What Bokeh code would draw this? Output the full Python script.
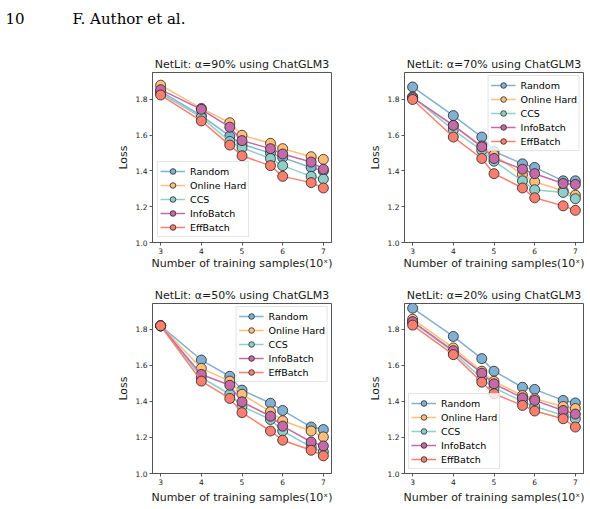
from bokeh.plotting import figure
from bokeh.models import Range1d, FixedTicker, PrintfTickFormatter, Label
from bokeh.layouts import column, row
from bokeh.embed import file_html
from bokeh.resources import INLINE

x_vals = [3, 4, 4.7, 5, 5.7, 6, 6.7, 7]
methods = ["Random", "Online Hard", "CCS", "InfoBatch", "EffBatch"]
colors = ["#82B0D2", "#FFBE7A", "#8ECFC9", "#C46AA6", "#FA7F6F"]

titles = [
    "NetLit: α=90% using ChatGLM3",
    "NetLit: α=70% using ChatGLM3",
    "NetLit: α=50% using ChatGLM3",
    "NetLit: α=20% using ChatGLM3",
]

# alpha = 90%
a90_random = [1.845, 1.71, 1.595, 1.55, 1.50, 1.475, 1.42, 1.40]
a90_online = [1.88, 1.75, 1.67, 1.60, 1.555, 1.525, 1.48, 1.465]
a90_ccs = [1.835, 1.70, 1.565, 1.53, 1.47, 1.43, 1.37, 1.355]
a90_info = [1.855, 1.745, 1.645, 1.57, 1.525, 1.495, 1.45, 1.41]
a90_eff = [1.825, 1.68, 1.545, 1.485, 1.43, 1.37, 1.335, 1.305]

# alpha = 70%
a70_random = [1.87, 1.71, 1.59, 1.51, 1.44, 1.42, 1.345, 1.345]
a70_online = [1.81, 1.655, 1.54, 1.49, 1.38, 1.34, 1.29, 1.265]
a70_ccs = [1.815, 1.63, 1.515, 1.455, 1.345, 1.295, 1.28, 1.245]
a70_info = [1.81, 1.655, 1.535, 1.47, 1.41, 1.385, 1.33, 1.325]
a70_eff = [1.80, 1.59, 1.47, 1.385, 1.305, 1.25, 1.205, 1.18]

# alpha = 50%
a50_random = [1.82, 1.63, 1.54, 1.463, 1.39, 1.35, 1.258, 1.244]
a50_online = [1.82, 1.584, 1.513, 1.44, 1.343, 1.293, 1.236, 1.203]
a50_ccs = [1.82, 1.533, 1.44, 1.373, 1.30, 1.236, 1.147, 1.12]
a50_info = [1.82, 1.55, 1.49, 1.398, 1.318, 1.263, 1.175, 1.153]
a50_eff = [1.82, 1.513, 1.417, 1.338, 1.236, 1.185, 1.129, 1.098]

# alpha = 20%
a20_random = [1.918, 1.761, 1.638, 1.568, 1.479, 1.467, 1.406, 1.392]
a20_online = [1.857, 1.697, 1.568, 1.512, 1.433, 1.415, 1.372, 1.361]
a20_ccs = [1.84, 1.675, 1.526, 1.476, 1.40, 1.372, 1.323, 1.304]
a20_info = [1.843, 1.682, 1.557, 1.498, 1.42, 1.406, 1.35, 1.33]
a20_eff = [1.824, 1.66, 1.507, 1.443, 1.378, 1.347, 1.304, 1.258]

y_ticks = [1.0, 1.2, 1.4, 1.6, 1.8]
x_ticks = [3, 4, 5, 6, 7]
x_label = "Number of training samples(10ˣ)"
y_label = "Loss"

FONT = "DejaVu Sans"
AX = "#555555"


def make_panel(title, series, width, height, bl, br, bt, bb, ytop, loc, margin, xstand):
    p = figure(width=width, height=height, output_backend="svg", toolbar_location=None,
               x_range=Range1d(2.8, 7.2), y_range=Range1d(1.0, ytop),
               min_border_left=bl, min_border_right=br, min_border_top=bt, min_border_bottom=bb)
    p.title.text = title
    p.title.align = "center"
    p.title.text_font = FONT
    p.title.text_font_size = "11px"
    p.title.text_font_style = "normal"
    p.title.text_color = "#1a1a1a"
    p.title.standoff = 3
    p.grid.visible = False
    p.outline_line_color = AX
    p.outline_line_width = 1
    p.outline_line_alpha = 1
    p.xaxis.ticker = FixedTicker(ticks=x_ticks)
    p.yaxis.ticker = FixedTicker(ticks=y_ticks)
    p.yaxis.formatter = PrintfTickFormatter(format="%.1f")
    p.xaxis.formatter = PrintfTickFormatter(format="%d")
    p.xaxis.axis_label = x_label
    p.yaxis.axis_label = y_label
    for ax in (p.xaxis, p.yaxis):
        ax.axis_line_color = AX
        ax.major_tick_line_color = AX
        ax.major_tick_out = 3
        ax.major_tick_in = 0
        ax.minor_tick_out = 0
        ax.minor_tick_in = 0
        ax.major_label_text_font = FONT
        ax.major_label_text_font_size = "7.5px"
        ax.major_label_text_color = "#222222"
        ax.major_label_standoff = 2
        ax.axis_label_text_font = FONT
        ax.axis_label_text_font_size = "11px"
        ax.axis_label_text_font_style = "normal"
        ax.axis_label_text_color = "#1a1a1a"
        ax.axis_label_standoff = 3
    p.xaxis.axis_label_standoff = xstand
    for name, col, ys in zip(methods, colors, series):
        p.line(x_vals, ys, line_color=col, line_width=1.5, legend_label=name)
        p.scatter(x_vals, ys, size=10, fill_color=col, line_color="#222222",
                  line_width=0.8, legend_label=name)
    lg = p.legend[0]
    lg.location = loc
    lg.margin = margin
    lg.label_text_font = FONT
    lg.label_text_font_size = "9.5px"
    lg.label_text_color = "#000000"
    lg.glyph_width = 25
    lg.glyph_height = 14
    lg.label_height = 14
    lg.spacing = 0
    lg.padding = 2
    lg.label_standoff = 5
    lg.border_line_color = "#cccccc"
    lg.border_line_width = 1
    lg.background_fill_alpha = 0.8
    return p


header = figure(width=590, height=40, output_backend="svg", toolbar_location=None,
                x_range=Range1d(0, 590), y_range=Range1d(40, 0),
                min_border=0, x_axis_location=None, y_axis_location=None)
header.grid.visible = False
header.outline_line_color = None
header.add_layout(Label(x=5, y=18, text="10", text_font="DejaVu Serif",
                        text_font_size="15px", text_baseline="alphabetic", text_color="#000000"))
header.add_layout(Label(x=72, y=18, text="F. Author et al.", text_font="DejaVu Serif",
                        text_font_size="15px", text_baseline="alphabetic", text_color="#000000"))

p1 = make_panel(titles[0], [a90_random, a90_online, a90_ccs, a90_info, a90_eff],
                360, 240, 152, 29, 32, 38, 1.951, "bottom_left", 5, 0)
p2 = make_panel(titles[1], [a70_random, a70_online, a70_ccs, a70_info, a70_eff],
                230, 240, 44, 7, 32, 38, 1.951, "top_right", 3, 0)
p3 = make_panel(titles[2], [a50_random, a50_online, a50_ccs, a50_info, a50_eff],
                360, 229, 152, 29, 23, 36, 1.944, "top_right", 3, 3)
p4 = make_panel(titles[3], [a20_random, a20_online, a20_ccs, a20_info, a20_eff],
                230, 229, 44, 7, 23, 36, 1.944, "bottom_left", 4, 3)

layout = column(header, row(p1, p2, spacing=0), row(p3, p4, spacing=0), spacing=0)

open("out.html", "w").write(file_html(layout, INLINE))
